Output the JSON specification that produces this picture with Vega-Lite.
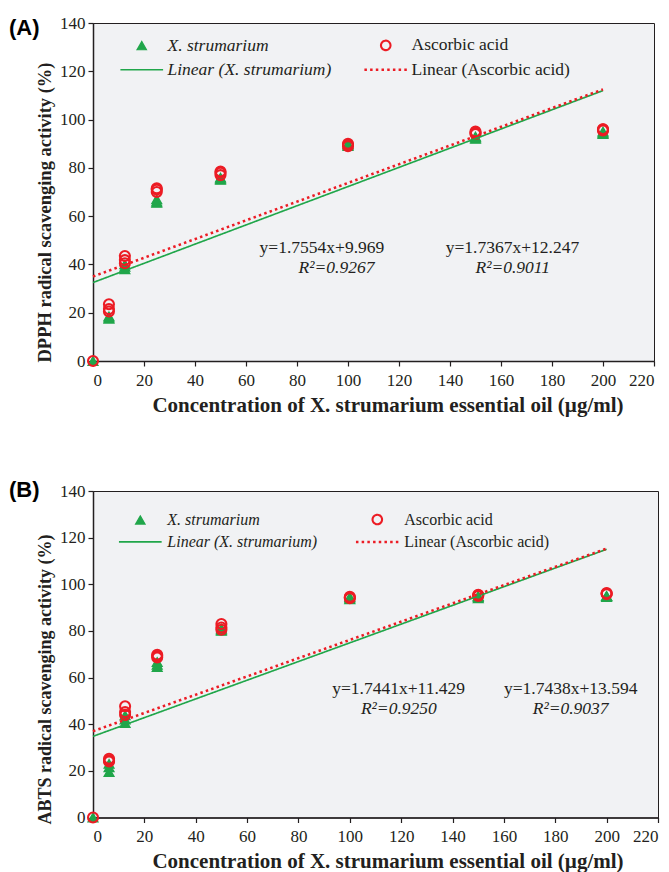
{
  "$schema": "https://vega.github.io/schema/vega-lite/v6.json",
  "background": "white",
  "padding": {"left": 8, "top": 13, "right": 0, "bottom": 0},
  "spacing": 130,
  "bounds": "flush",
  "config": {
    "font": "Liberation Serif",
    "view": {"fill": "#f1f2f4", "stroke": "#231f20", "strokeWidth": 1},
    "axis": {
      "domainColor": "#231f20", "domainWidth": 1.5, "tickColor": "#231f20", "tickSize": 5, "tickWidth": 1.2,
      "labelFont": "Liberation Serif", "labelFontSize": 17, "labelColor": "#231f20", "labelPadding": 3,
      "titleFont": "Liberation Serif", "titleFontWeight": "bold", "titleColor": "#231f20", "grid": false
    },
    "legend": {
      "orient": "none", "columns": 2, "title": null, "labelLimit": 400, "symbolSize": 90,
      "labelFont": "Liberation Serif", "labelColor": "#231f20", "labelOffset": 17, "columnPadding": 27, "rowPadding": 5.5
    },
    "title": {"font": "Liberation Sans", "fontSize": 22, "fontWeight": "bold", "anchor": "start", "frame": "group", "offset": -26, "baseline": "middle", "color": "#000000"}
  },
  "resolve": {
    "scale": {"stroke": "independent", "fill": "independent", "shape": "independent", "strokeDash": "independent", "strokeWidth": "independent"},
    "legend": {"stroke": "independent", "fill": "independent", "shape": "independent", "strokeDash": "independent", "strokeWidth": "independent"}
  },
  "vconcat": [
    {
      "title": {"text": "(A)", "dx": -84},
      "width": 561,
      "height": 338,
      "layer": [
        {
          "data": {"values": [
            {"c": 0, "v": 0, "s": "X. strumarium"},
            {"c": 6.25, "v": 17.5, "s": "X. strumarium"},
            {"c": 6.25, "v": 18, "s": "X. strumarium"},
            {"c": 6.25, "v": 18.5, "s": "X. strumarium"},
            {"c": 12.5, "v": 38, "s": "X. strumarium"},
            {"c": 12.5, "v": 39, "s": "X. strumarium"},
            {"c": 12.5, "v": 40, "s": "X. strumarium"},
            {"c": 25, "v": 65.5, "s": "X. strumarium"},
            {"c": 25, "v": 66, "s": "X. strumarium"},
            {"c": 25, "v": 67, "s": "X. strumarium"},
            {"c": 50, "v": 75, "s": "X. strumarium"},
            {"c": 50, "v": 75.5, "s": "X. strumarium"},
            {"c": 50, "v": 76, "s": "X. strumarium"},
            {"c": 100, "v": 89, "s": "X. strumarium"},
            {"c": 100, "v": 89.5, "s": "X. strumarium"},
            {"c": 100, "v": 90, "s": "X. strumarium"},
            {"c": 150, "v": 92, "s": "X. strumarium"},
            {"c": 150, "v": 92.5, "s": "X. strumarium"},
            {"c": 150, "v": 93, "s": "X. strumarium"},
            {"c": 200, "v": 94, "s": "X. strumarium"},
            {"c": 200, "v": 94.5, "s": "X. strumarium"},
            {"c": 200, "v": 95, "s": "X. strumarium"},
            {"c": 0, "v": 0, "s": "Ascorbic acid"},
            {"c": 6.25, "v": 20.5, "s": "Ascorbic acid"},
            {"c": 6.25, "v": 21.5, "s": "Ascorbic acid"},
            {"c": 6.25, "v": 23.5, "s": "Ascorbic acid"},
            {"c": 12.5, "v": 40.5, "s": "Ascorbic acid"},
            {"c": 12.5, "v": 41.8, "s": "Ascorbic acid"},
            {"c": 12.5, "v": 43.5, "s": "Ascorbic acid"},
            {"c": 25, "v": 70, "s": "Ascorbic acid"},
            {"c": 25, "v": 71, "s": "Ascorbic acid"},
            {"c": 25, "v": 71.5, "s": "Ascorbic acid"},
            {"c": 50, "v": 77, "s": "Ascorbic acid"},
            {"c": 50, "v": 78, "s": "Ascorbic acid"},
            {"c": 50, "v": 78.5, "s": "Ascorbic acid"},
            {"c": 100, "v": 89, "s": "Ascorbic acid"},
            {"c": 100, "v": 89.5, "s": "Ascorbic acid"},
            {"c": 100, "v": 90, "s": "Ascorbic acid"},
            {"c": 150, "v": 94, "s": "Ascorbic acid"},
            {"c": 150, "v": 94.5, "s": "Ascorbic acid"},
            {"c": 150, "v": 95, "s": "Ascorbic acid"},
            {"c": 200, "v": 95.5, "s": "Ascorbic acid"},
            {"c": 200, "v": 96, "s": "Ascorbic acid"},
            {"c": 200, "v": 96, "s": "Ascorbic acid"}
          ]},
          "mark": {"type": "point", "opacity": 1, "size": 100},
          "encoding": {
            "x": {"field": "c", "type": "quantitative", "scale": {"domain": [0, 220], "nice": false},
              "axis": {"values": [0,20,40,60,80,100,120,140,160,180,200,220], "labelPadding": 6, "title": "Concentration of X. strumarium essential oil (µg/ml)", "titleFontSize": 21, "titlePadding": 6, "titleX": 294.5}},
            "y": {"field": "v", "type": "quantitative", "scale": {"domain": [0, 140], "nice": false},
              "axis": {"values": [0,20,40,60,80,100,120,140], "title": "DPPH radical scavenging activity (%)", "titleFontSize": 18.5, "titlePadding": 5, "titleY": 189}},
            "fill": {"field": "s", "type": "nominal",
              "scale": {"domain": ["X. strumarium", "Linear (X. strumarium)", "Ascorbic acid", "Linear (Ascorbic acid)"], "range": ["#20a64a", "transparent", "transparent", "transparent"]},
              "legend": {"legendX": 40, "legendY": 13.5, "labelFontSize": 17.5,
                "labelFontStyle": {"expr": "indexof('' + datum.label, 'X.') >= 0 ? 'italic' : 'normal'"}}},
            "stroke": {"field": "s", "type": "nominal",
              "scale": {"domain": ["X. strumarium", "Linear (X. strumarium)", "Ascorbic acid", "Linear (Ascorbic acid)"], "range": ["#20a64a", "#20a64a", "#ec1c24", "#ec1c24"]}},
            "shape": {"field": "s", "type": "nominal",
              "scale": {"domain": ["X. strumarium", "Linear (X. strumarium)", "Ascorbic acid", "Linear (Ascorbic acid)"], "range": ["triangle-up", "M-4.5,0L4.5,0", "circle", "M-4.5,0L4.5,0"]}},
            "strokeWidth": {"field": "s", "type": "nominal",
              "scale": {"domain": ["X. strumarium", "Linear (X. strumarium)", "Ascorbic acid", "Linear (Ascorbic acid)"], "range": [1.2, 2.55]}}
          }
        },
        {
          "data": {"values": [
            {"c": 0, "v": 32.5, "s": "Linear (X. strumarium)"},
            {"c": 200, "v": 112, "s": "Linear (X. strumarium)"},
            {"c": 0, "v": 35, "s": "Linear (Ascorbic acid)"},
            {"c": 200, "v": 112.5, "s": "Linear (Ascorbic acid)"}
          ]},
          "mark": {"type": "line"},
          "encoding": {
            "x": {"field": "c", "type": "quantitative"},
            "y": {"field": "v", "type": "quantitative"},
            "stroke": {"field": "s", "type": "nominal"},
            "strokeWidth": {"field": "s", "type": "nominal"},
            "strokeDash": {"field": "s", "type": "nominal",
              "scale": {"domain": ["X. strumarium", "Linear (X. strumarium)", "Ascorbic acid", "Linear (Ascorbic acid)"], "range": [[1, 0], [1, 0], [1, 0], [2.5, 3.2]]}}
          }
        },
        {
          "data": {"values": [
            {"c": 89.8, "v": 47, "t": "y=1.7554x+9.969"},
            {"c": 164.5, "v": 47, "t": "y=1.7367x+12.247"}
          ]},
          "mark": {"type": "text", "font": "Liberation Serif", "fontSize": 17.5, "color": "#231f20", "baseline": "middle", "align": "center"},
          "encoding": {
            "x": {"field": "c", "type": "quantitative"},
            "y": {"field": "v", "type": "quantitative"},
            "text": {"field": "t"}
          }
        },
        {
          "data": {"values": [
            {"c": 95.5, "v": 38.5, "t": "R²=0.9267"},
            {"c": 164.6, "v": 38.5, "t": "R²=0.9011"}
          ]},
          "mark": {"type": "text", "font": "Liberation Serif", "fontSize": 17.5, "fontStyle": "italic", "color": "#231f20", "baseline": "middle", "align": "center"},
          "encoding": {
            "x": {"field": "c", "type": "quantitative"},
            "y": {"field": "v", "type": "quantitative"},
            "text": {"field": "t"}
          }
        }
      ]
    },
    {
      "title": {"text": "(B)", "dx": -84, "offset": -20},
      "width": 565,
      "height": 326.5,
      "layer": [
        {
          "data": {"values": [
            {"c": 0, "v": 0, "s": "X. strumarium"},
            {"c": 6.25, "v": 19.5, "s": "X. strumarium"},
            {"c": 6.25, "v": 21.5, "s": "X. strumarium"},
            {"c": 6.25, "v": 23, "s": "X. strumarium"},
            {"c": 12.5, "v": 40.5, "s": "X. strumarium"},
            {"c": 12.5, "v": 42, "s": "X. strumarium"},
            {"c": 12.5, "v": 43.8, "s": "X. strumarium"},
            {"c": 25, "v": 64.5, "s": "X. strumarium"},
            {"c": 25, "v": 65.5, "s": "X. strumarium"},
            {"c": 25, "v": 66.7, "s": "X. strumarium"},
            {"c": 50, "v": 80, "s": "X. strumarium"},
            {"c": 50, "v": 80.5, "s": "X. strumarium"},
            {"c": 50, "v": 81, "s": "X. strumarium"},
            {"c": 100, "v": 93.5, "s": "X. strumarium"},
            {"c": 100, "v": 94, "s": "X. strumarium"},
            {"c": 100, "v": 94.5, "s": "X. strumarium"},
            {"c": 150, "v": 94, "s": "X. strumarium"},
            {"c": 150, "v": 94.5, "s": "X. strumarium"},
            {"c": 150, "v": 95, "s": "X. strumarium"},
            {"c": 200, "v": 94.5, "s": "X. strumarium"},
            {"c": 200, "v": 95, "s": "X. strumarium"},
            {"c": 200, "v": 95, "s": "X. strumarium"},
            {"c": 0, "v": 0, "s": "Ascorbic acid"},
            {"c": 6.25, "v": 24, "s": "Ascorbic acid"},
            {"c": 6.25, "v": 24.5, "s": "Ascorbic acid"},
            {"c": 6.25, "v": 25.2, "s": "Ascorbic acid"},
            {"c": 12.5, "v": 44, "s": "Ascorbic acid"},
            {"c": 12.5, "v": 45.2, "s": "Ascorbic acid"},
            {"c": 12.5, "v": 47.7, "s": "Ascorbic acid"},
            {"c": 25, "v": 68.6, "s": "Ascorbic acid"},
            {"c": 25, "v": 69.2, "s": "Ascorbic acid"},
            {"c": 25, "v": 69.8, "s": "Ascorbic acid"},
            {"c": 50, "v": 80.5, "s": "Ascorbic acid"},
            {"c": 50, "v": 81.5, "s": "Ascorbic acid"},
            {"c": 50, "v": 83, "s": "Ascorbic acid"},
            {"c": 100, "v": 94, "s": "Ascorbic acid"},
            {"c": 100, "v": 94.3, "s": "Ascorbic acid"},
            {"c": 100, "v": 94.6, "s": "Ascorbic acid"},
            {"c": 150, "v": 95, "s": "Ascorbic acid"},
            {"c": 150, "v": 95.3, "s": "Ascorbic acid"},
            {"c": 150, "v": 95.5, "s": "Ascorbic acid"},
            {"c": 200, "v": 95.8, "s": "Ascorbic acid"},
            {"c": 200, "v": 96, "s": "Ascorbic acid"},
            {"c": 200, "v": 96.2, "s": "Ascorbic acid"}
          ]},
          "mark": {"type": "point", "opacity": 1, "size": 100},
          "encoding": {
            "x": {"field": "c", "type": "quantitative", "scale": {"domain": [0, 220], "nice": false},
              "axis": {"values": [0,20,40,60,80,100,120,140,160,180,200,220], "labelPadding": 6, "title": "Concentration of X. strumarium essential oil (µg/ml)", "titleFontSize": 21, "titlePadding": 6, "titleX": 294.5}},
            "y": {"field": "v", "type": "quantitative", "scale": {"domain": [0, 140], "nice": false},
              "axis": {"values": [0,20,40,60,80,100,120,140], "title": "ABTS radical scavenging activity (%)", "titleFontSize": 18, "titlePadding": 5, "titleY": 188}},
            "fill": {"field": "s", "type": "nominal",
              "scale": {"domain": ["X. strumarium", "Linear (X. strumarium)", "Ascorbic acid", "Linear (Ascorbic acid)"], "range": ["#20a64a", "transparent", "transparent", "transparent"]},
              "legend": {"legendX": 39.3, "legendY": 20.5, "labelFontSize": 16, "rowPadding": 5.4, "columnPadding": 33, "labelOffset": 19,
                "labelFontStyle": {"expr": "indexof('' + datum.label, 'X.') >= 0 ? 'italic' : 'normal'"}}},
            "stroke": {"field": "s", "type": "nominal",
              "scale": {"domain": ["X. strumarium", "Linear (X. strumarium)", "Ascorbic acid", "Linear (Ascorbic acid)"], "range": ["#20a64a", "#20a64a", "#ec1c24", "#ec1c24"]}},
            "shape": {"field": "s", "type": "nominal",
              "scale": {"domain": ["X. strumarium", "Linear (X. strumarium)", "Ascorbic acid", "Linear (Ascorbic acid)"], "range": ["triangle-up", "M-4.5,0L4.5,0", "circle", "M-4.5,0L4.5,0"]}},
            "strokeWidth": {"field": "s", "type": "nominal",
              "scale": {"domain": ["X. strumarium", "Linear (X. strumarium)", "Ascorbic acid", "Linear (Ascorbic acid)"], "range": [1.2, 2.55]}}
          }
        },
        {
          "data": {"values": [
            {"c": 0, "v": 34.8, "s": "Linear (X. strumarium)"},
            {"c": 200, "v": 115, "s": "Linear (X. strumarium)"},
            {"c": 0, "v": 37, "s": "Linear (Ascorbic acid)"},
            {"c": 200, "v": 115.3, "s": "Linear (Ascorbic acid)"}
          ]},
          "mark": {"type": "line"},
          "encoding": {
            "x": {"field": "c", "type": "quantitative"},
            "y": {"field": "v", "type": "quantitative"},
            "stroke": {"field": "s", "type": "nominal"},
            "strokeWidth": {"field": "s", "type": "nominal"},
            "strokeDash": {"field": "s", "type": "nominal",
              "scale": {"domain": ["X. strumarium", "Linear (X. strumarium)", "Ascorbic acid", "Linear (Ascorbic acid)"], "range": [[1, 0], [1, 0], [1, 0], [2.5, 3.2]]}}
          }
        },
        {
          "data": {"values": [
            {"c": 119, "v": 55.3, "t": "y=1.7441x+11.429"},
            {"c": 186, "v": 55.3, "t": "y=1.7438x+13.594"}
          ]},
          "mark": {"type": "text", "font": "Liberation Serif", "fontSize": 17.5, "color": "#231f20", "baseline": "middle", "align": "center"},
          "encoding": {
            "x": {"field": "c", "type": "quantitative"},
            "y": {"field": "v", "type": "quantitative"},
            "text": {"field": "t"}
          }
        },
        {
          "data": {"values": [
            {"c": 119.1, "v": 46.4, "t": "R²=0.9250"},
            {"c": 186, "v": 46.4, "t": "R²=0.9037"}
          ]},
          "mark": {"type": "text", "font": "Liberation Serif", "fontSize": 17.5, "fontStyle": "italic", "color": "#231f20", "baseline": "middle", "align": "center"},
          "encoding": {
            "x": {"field": "c", "type": "quantitative"},
            "y": {"field": "v", "type": "quantitative"},
            "text": {"field": "t"}
          }
        }
      ]
    }
  ]
}
